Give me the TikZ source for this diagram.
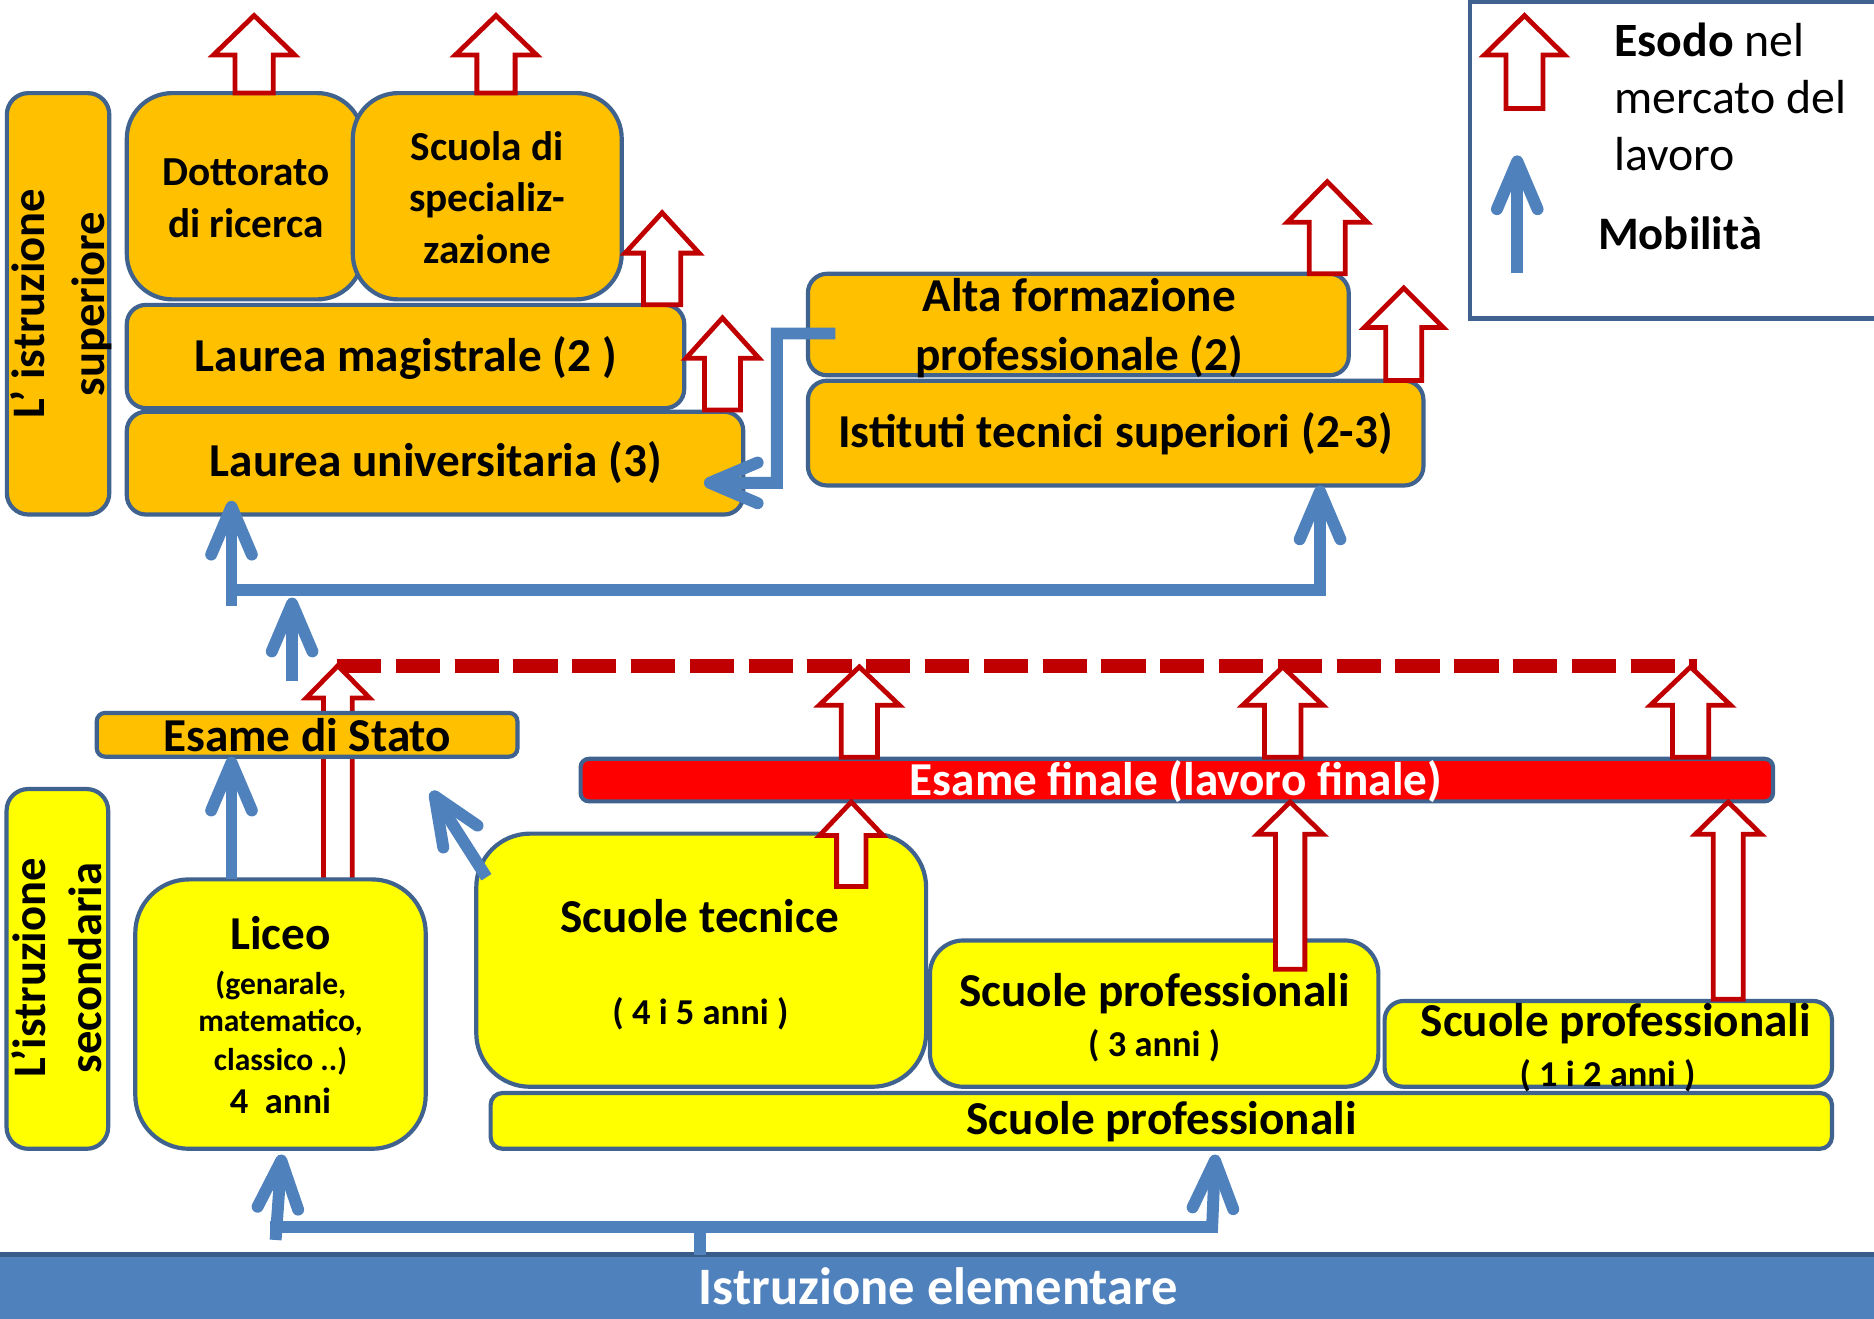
\documentclass[tikz,border=0pt]{standalone}
\usepackage{fontspec}
\setmainfont{Carlito}
\usetikzlibrary{arrows.meta}
\definecolor{orng}{HTML}{FFC000}
\definecolor{yell}{HTML}{FFFF00}
\definecolor{bord}{RGB}{63,98,143}
\definecolor{mblue}{HTML}{4F81BD}
\definecolor{dred}{HTML}{C00000}
\definecolor{fred}{HTML}{FF0000}
\definecolor{barline}{HTML}{385D8A}
\newcommand\fntBig{\fontsize{39.5}{47}\selectfont\bfseries}
\newcommand\fntDot{\fontsize{34.5}{43}\selectfont\bfseries}
\newcommand\fntSml{\fontsize{26.4}{32}\selectfont\bfseries}
\newcommand\fntAnni{\fontsize{30.5}{36}\selectfont\bfseries}
\newcommand\fntRot{\fontsize{39}{47}\selectfont\bfseries}
\newcommand\fntLeg{\fontsize{40}{48}\selectfont}
\newcommand\exitarr[6]{\draw[exit] ({#1-#6},#4) -- ({#1-#6},#3) -- ({#1-#5},#3) -- (#1,#2) -- ({#1+#5},#3) -- ({#1+#6},#3) -- ({#1+#6},#4) -- cycle;}
\begin{document}
\begin{tikzpicture}[x=1pt,y=-1pt,
  bx/.style={draw=bord, line width=3.5pt, inner sep=0pt, outer sep=0pt},
  ob/.style={bx, fill=orng},
  yb/.style={bx, fill=yell},
  mobl/.style={draw=mblue, line width=10pt, line cap=butt},
  mob/.style={mobl, -{Straight Barb[length=40pt,width=34pt,round]}},
  exit/.style={draw=dred, line width=4pt, fill=white, line join=miter},
  tx/.style={inner sep=0pt, anchor=base}]
\useasboundingbox (0,0) rectangle (1568,1102.8);
% legend
\node[draw=bord, line width=4pt, fill=white, minimum width=370pt, minimum height=265pt, inner sep=0pt] (legend) at (1415,134) {};
% upper boxes
\node[ob, rounded corners=18pt, minimum width=85.7pt, minimum height=352.6pt] (supLbl) at (48.6,254.2) {};
\node[ob, rounded corners=38pt, minimum width=197.4pt, minimum height=172.6pt] (dott) at (204.8,164.2) {};
\node[ob, rounded corners=38pt, minimum width=225pt, minimum height=172.6pt] (scuola) at (407.7,164.2) {};
\node[ob, rounded corners=16pt, minimum width=466.4pt, minimum height=86.4pt] (lmag) at (339.3,298.3) {};
\node[ob, rounded corners=16pt, minimum width=515.8pt, minimum height=86pt] (luniv) at (364,387.5) {};
\node[ob, rounded corners=16pt, minimum width=452.5pt, minimum height=84.9pt] (alta) at (902.25,271.55) {};
\node[ob, rounded corners=16pt, minimum width=515pt, minimum height=87.7pt] (its) at (933.5,362.35) {};
% exit arrows (upper)
\exitarr{212.6}{13}{46}{77.8}{34}{16}
\exitarr{415}{13}{46}{77.8}{34}{16}
\exitarr{554}{178}{211.8}{255}{31}{15.5}
\exitarr{604.5}{266}{299.7}{343}{30.5}{15}
\exitarr{1110.5}{152}{186}{229}{33.5}{15}
\exitarr{1174.5}{241}{274}{318.4}{33}{15}
\exitarr{1275.5}{13}{46}{90.8}{33.5}{15.5}
% legend mobility arrow
\coordinate (lgA) at (1269.5,228.5);
\coordinate (lgB) at (1269.5,130);
\draw[mob] (lgA) -- (lgB);
% alta -> laurea universitaria
\draw[mob] ([xshift=23pt,yshift=-7.5pt]alta.west) -- ++(-49,0) -- ++(0,125) -- ([xshift=-33pt,yshift=-16.5pt]luniv.east);
% upper tree
\coordinate (utA) at (193.7,507);
\coordinate (utB) at (193.7,419);
\coordinate (utL) at (193.7,494);
\coordinate (utC) at (1104.5,494);
\draw[mob] (utA) -- (utB);
\draw[mob] (utL) -- (utC) -- (its.south -| utC);
\coordinate (la0) at (244.4,570);
\coordinate (la1) at (244.4,500);
\draw[mob] (la0) -- (la1);
% dashed line
\coordinate (dsA) at (282,557);
\coordinate (dsB) at (1420,557);
\draw[dred, line width=12pt, dash pattern=on 37pt off 12.2pt] (dsA) -- (dsB);
% liceo exit arrow, esame di stato
\exitarr{282.7}{557}{584}{736.6}{26.5}{12}
\node[ob, rounded corners=7pt, minimum width=352pt, minimum height=36.6pt] (esameS) at (256.95,614.8) {};
% esame finale
\node[bx, fill=fred, rounded corners=7pt, minimum width=997.7pt, minimum height=35.6pt] (esameF) at (984.65,652.7) {};
\exitarr{719}{558}{590}{633.6}{33.5}{15.2}
\exitarr{1073.3}{558}{590}{633.6}{33.5}{15.2}
\exitarr{1414.5}{558}{590}{633.6}{33.5}{15.2}
% lower boxes
\node[yb, rounded corners=18pt, minimum width=85pt, minimum height=301pt] (secLbl) at (48,810.7) {};
\node[yb, rounded corners=45pt, minimum width=243pt, minimum height=225.4pt] (liceo) at (234.7,848.5) {};
\node[yb, rounded corners=45pt, minimum width=376.4pt, minimum height=211.8pt] (tecn) at (586.7,803.4) {};
\node[yb, rounded corners=28pt, minimum width=375.2pt, minimum height=122.4pt] (prof3) at (965.7,848.1) {};
\node[yb, rounded corners=16pt, minimum width=374.3pt, minimum height=71.8pt] (prof12) at (1345.65,873.4) {};
\node[yb, rounded corners=10pt, minimum width=1122.3pt, minimum height=46.7pt] (profB) at (971.65,937.85) {};
% exit arrows into esame finale
\exitarr{712.3}{671}{699}{741.8}{26.5}{12.3}
\exitarr{1079.5}{671}{698}{811}{27.5}{12.3}
\exitarr{1446}{671}{698}{836}{27.5}{12.5}
% mobility arrows lower
\coordinate (cle) at (193.7,0);
\draw[mob] (liceo.north -| cle) -- (esameS.south -| cle);
\coordinate (dgA) at (407,734);
\coordinate (dgB) at (361,662);
\draw[mob] (dgA) -- (dgB);
% elementare bar
\node[fill=mblue, minimum width=1600pt, minimum height=70pt, inner sep=0pt] (elem) at (784,1085) {};
\draw[barline, line width=4pt] (elem.north west) -- (elem.north east);
\coordinate (bt0) at (585.8,1026.5);
\draw[mobl] (elem.north -| bt0) -- (bt0);
\coordinate (btL) at (225.6,1026.5);
\coordinate (btR) at (1019,1026.5);
\draw[mobl] (btL) -- (btR);
\coordinate (btLa) at (230.6,1037.5);
\coordinate (btLb) at (235.7,966);
\draw[mob] (btLa) -- (btLb);
\coordinate (btRa) at (1014,1031);
\coordinate (btRb) at (1016.8,966);
\draw[mob] (btRa) -- (btRb);
% texts
\node[tx, rotate=90, font=\fntRot] (tSup1) at (37.6,254) {L’ istruzione};
\node[tx, rotate=90, font=\fntRot] (tSup2) at (87.5,254.5) {superiore};
\node[tx, rotate=90, font=\fntRot] (tSec1) at (38.4,810) {L’istruzione};
\node[tx, rotate=90, font=\fntRot] (tSec2) at (84.6,810) {secondaria};
\node[tx, font=\fntDot] (tDo1) at (206,155.6) {Dottorato};
\node[tx, font=\fntDot] (tDo2) at (206,198.8) {di ricerca};
\node[tx, font=\fntDot] (tSc1) at (407.7,134) {Scuola di};
\node[tx, font=\fntDot] (tSc2) at (407.7,177) {specializ-};
\node[tx, font=\fntDot] (tSc3) at (407.7,220.4) {zazione};
\node[tx, font=\fntBig] (tLM) at (339.6,311) {Laurea magistrale (2 )};
\node[tx, font=\fntBig] (tLU) at (364.6,399) {Laurea universitaria (3)};
\node[tx, font=\fntBig] (tAl1) at (903,260.8) {Alta formazione};
\node[tx, font=\fntBig] (tAl2) at (903,309.8) {professionale (2)};
\node[tx, font=\fntBig] (tIT) at (933.5,374.6) {Istituti tecnici superiori (2-3)};
\node[tx, font=\fntBig] (tES) at (257,628.5) {Esame di Stato};
\node[tx, font=\fntBig, text=white] (tEF) at (983.9,665.8) {Esame finale (lavoro finale)};
\node[tx, font=\fntBig] (tLi) at (234.7,794.5) {Liceo};
\node[tx, font=\fntSml] (tLi2) at (235,832) {(genarale,};
\node[tx, font=\fntSml] (tLi3) at (234.7,863) {matematico,};
\node[tx, font=\fntSml] (tLi4) at (234.7,895.5) {classico ..)};
\node[tx, font=\fntAnni] (tLi5) at (234.7,931.6) {4~~anni};
\node[tx, font=\fntBig] (tTe1) at (585.5,780) {Scuole tecnice};
\node[tx, font=\fntAnni] (tTe2) at (586,856.8) {( 4 i 5 anni )};
\node[tx, font=\fntBig] (tP31) at (966,842.3) {Scuole professionali};
\node[tx, font=\fntAnni] (tP32) at (965.7,883.8) {( 3 anni )};
\node[tx, font=\fntBig] (tP121) at (1352,867.2) {Scuole professionali};
\node[tx, font=\fntAnni] (tP122) at (1345,908.8) {( 1 i 2 anni )};
\node[tx, font=\fntBig] (tPB) at (972,949.4) {Scuole professionali};
\node[tx, font=\fontsize{44}{52}\selectfont\bfseries, text=white] (tEl) at (785.3,1091.5) {Istruzione elementare};
\node[tx, anchor=base west, font=\fntLeg] (tLg1) at (1350.6,47.5) {\textbf{Esodo} nel};
\node[tx, anchor=base west, font=\fntLeg] (tLg2) at (1350.6,95) {mercato del};
\node[tx, anchor=base west, font=\fntLeg] (tLg3) at (1350.6,142.6) {lavoro};
\node[tx, anchor=base west, font=\fontsize{39}{47}\selectfont\bfseries] (tLg4) at (1337,209) {Mobilità};
\end{tikzpicture}
\end{document}
